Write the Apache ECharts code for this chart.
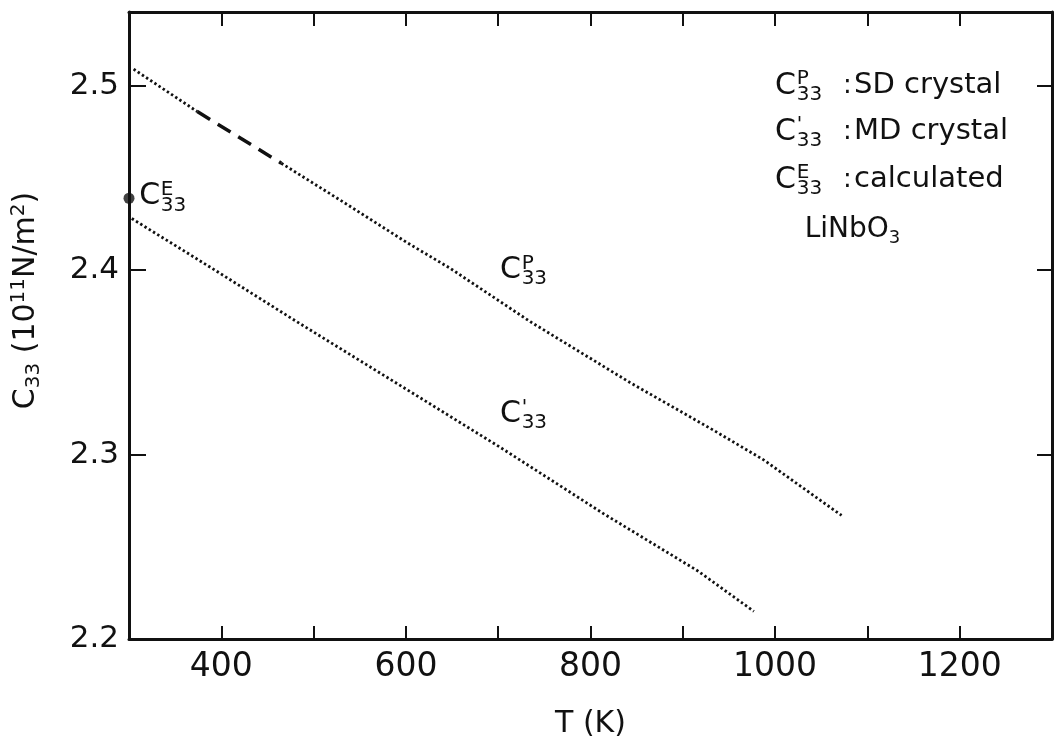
<!DOCTYPE html>
<html>
<head>
<meta charset="utf-8">
<script src="https://cdn.jsdelivr.net/npm/echarts@6/dist/echarts.min.js"></script>
<style>
  html, body { margin: 0; padding: 0; background: #fff; }
  #chart { width: 1060px; height: 741px; }
</style>
</head>
<body>
<div id="chart"></div>
<script>
// LiNbO3: elastic stiffness C33 (10^11 N/m^2) versus temperature T (K)
const tempP = [305, 374, 465, 532, 601, 648, 735, 843, 934, 988, 1072];
const c33P  = [2.509, 2.486, 2.458, 2.437, 2.415, 2.401, 2.372, 2.339, 2.313, 2.297, 2.267];
const tempM = [303, 390, 482, 618, 702, 814, 916, 977];
const c33M  = [2.428, 2.401, 2.372, 2.330, 2.304, 2.268, 2.237, 2.215];
const tempE = [300];
const c33E  = [2.439];
// part of the SD-crystal curve that is drawn with long dashes
const dashRange = [374, 465];
const xTickLabels = [400, 600, 800, 1000, 1200];
const yTickLabels = [2.2, 2.3, 2.4, 2.5];

const FONT = 'DejaVu Sans';
const INK = '#111';

const ptsP = tempP.map((t, i) => [t, c33P[i]]);
const segBefore = ptsP.filter(p => p[0] <= dashRange[0]);
const segDash = ptsP.filter(p => p[0] >= dashRange[0] && p[0] <= dashRange[1]);
const segAfter = ptsP.filter(p => p[0] >= dashRange[1]);
const ptsM = tempM.map((t, i) => [t, c33M[i]]);
const ptsE = tempE.map((t, i) => [t, c33E[i]]);

const dotted = { color: INK, width: 2.8, type: [2.4, 2.6] };

function line(name, data, style) {
  return {
    name, type: 'line', data, showSymbol: false, symbol: 'none',
    lineStyle: style, silent: true, animation: false, z: 3
  };
}

const chart = echarts.init(document.getElementById('chart'), null, { renderer: 'canvas' });

const axisCommon = {
  type: 'value',
  axisLine: { show: true, onZero: false, lineStyle: { color: INK, width: 3 } },
  splitLine: { show: false },
  axisTick: { show: true, inside: true, lineStyle: { color: INK, width: 2 } }
};

chart.setOption({
  animation: false,
  backgroundColor: '#fff',
  grid: { left: 129, right: 8, top: 12, bottom: 102, containLabel: false, outerBoundsMode: 'none' },
  xAxis: [
    Object.assign({}, axisCommon, {
      position: 'bottom', min: 300, max: 1300, interval: 100,
      axisTick: { show: true, inside: true, length: 13, lineStyle: { color: INK, width: 2 } },
      axisLabel: {
        color: INK, fontFamily: FONT, fontSize: 33, margin: 12,
        formatter: v => xTickLabels.includes(Math.round(v)) ? String(Math.round(v)) : ''
      },
      name: 'T (K)', nameLocation: 'middle', nameGap: 70,
      nameTextStyle: { color: INK, fontFamily: FONT, fontSize: 30 }
    }),
    Object.assign({}, axisCommon, {
      position: 'top', min: 300, max: 1300, interval: 100,
      axisTick: { show: true, inside: true, length: 14, lineStyle: { color: INK, width: 2 } },
      axisLabel: { show: false }
    })
  ],
  yAxis: [
    Object.assign({}, axisCommon, {
      position: 'left', min: 2.2, max: 2.54, interval: 0.1,
      axisTick: { show: true, inside: true, length: 17, lineStyle: { color: INK, width: 2 } },
      axisLabel: {
        color: INK, fontFamily: FONT, fontSize: 31, margin: 10, showMaxLabel: false,
        formatter: v => {
          const r = Math.round(v * 10) / 10;
          return (Math.abs(v - r) < 1e-6 && yTickLabels.includes(r)) ? r.toFixed(1) : '';
        }
      },
      name: '{b|C}{sub|33}{b| (10}{sup|11}{b|N/m}{sup|2}{b|)}',
      nameLocation: 'middle', nameRotate: 90, nameGap: 84,
      nameTextStyle: {
        color: INK, fontFamily: FONT, padding: [0, 0, 0, 50],
        rich: {
          b: { fontSize: 30, fontFamily: FONT, color: INK, lineHeight: 38, verticalAlign: 'middle' },
          sub: { fontSize: 20, fontFamily: FONT, color: INK, lineHeight: 38, verticalAlign: 'bottom', padding: [0, 0, 1, 0] },
          sup: { fontSize: 20, fontFamily: FONT, color: INK, lineHeight: 38, verticalAlign: 'top', padding: [2, 0, 0, 0] }
        }
      }
    }),
    Object.assign({}, axisCommon, {
      position: 'right', min: 2.2, max: 2.54, interval: 0.1,
      axisTick: { show: true, inside: true, length: 15, lineStyle: { color: INK, width: 2 } },
      axisLabel: { show: false }
    })
  ],
  series: [
    line('C33P a', segBefore, dotted),
    line('C33P dash', segDash, { color: INK, width: 3.5, type: [15, 9] }),
    line('C33P b', segAfter, dotted),
    line("C33'", ptsM, dotted),
    {
      name: 'C33E', type: 'scatter', data: ptsE, symbol: 'circle', symbolSize: 11,
      itemStyle: { color: INK }, clip: false, silent: true, z: 5
    }
  ]
});

// C with a stacked superscript and "33" subscript, placed at a data coordinate
function symbol(coord, sup, size) {
  const p = chart.convertToPixel({ xAxisIndex: 0, yAxisIndex: 0 }, coord);
  const x = p[0], y = p[1];
  const small = Math.round(size * 0.68);
  const off = size * 0.72;
  const els = [
    { type: 'text', x, y, style: { text: 'C', fill: INK, font: `${size}px "${FONT}"`, verticalAlign: 'middle' } },
    { type: 'text', x: x + off, y: y - size * 0.22, style: { text: sup, fill: INK, font: `${small}px "${FONT}"`, verticalAlign: 'middle' } },
    { type: 'text', x: x + off, y: y + size * 0.3, style: { text: '33', fill: INK, font: `${small}px "${FONT}"`, verticalAlign: 'middle' } }
  ];
  return { els, x, y };
}

function plain(x, y, text, size) {
  return { type: 'text', x, y, style: { text, fill: INK, font: `${size}px "${FONT}"`, verticalAlign: 'middle' } };
}

const g = [];
// legend block
const legendRows = [
  { coord: [1000, 2.500], sup: 'P', text: 'SD crystal' },
  { coord: [1000, 2.475], sup: "'", text: 'MD crystal' },
  { coord: [1000, 2.449], sup: 'E', text: 'calculated' }
];
legendRows.forEach(r => {
  const s = symbol(r.coord, r.sup, 30);
  g.push(...s.els);
  g.push(plain(s.x + 68, s.y, ':', 26));
  g.push(plain(s.x + 79, s.y, r.text, 29));
});
// crystal name
{
  const p = chart.convertToPixel({ xAxisIndex: 0, yAxisIndex: 0 }, [1032, 2.422]);
  g.push({ type: 'text', x: p[0], y: p[1], style: {
    text: '{b|LiNbO}{s|3}', verticalAlign: 'middle',
    rich: {
      b: { fontSize: 28, fontFamily: FONT, fill: INK, color: INK, lineHeight: 36, verticalAlign: 'middle' },
      s: { fontSize: 18, fontFamily: FONT, fill: INK, color: INK, lineHeight: 36, verticalAlign: 'bottom' }
    }
  } });
}
// curve labels
g.push(...symbol([702, 2.400], 'P', 30).els);
g.push(...symbol([702, 2.322], "'", 30).els);
g.push(...symbol([311, 2.440], 'E', 30).els);

chart.setOption({ graphic: { elements: g } });
</script>
</body>
</html>
